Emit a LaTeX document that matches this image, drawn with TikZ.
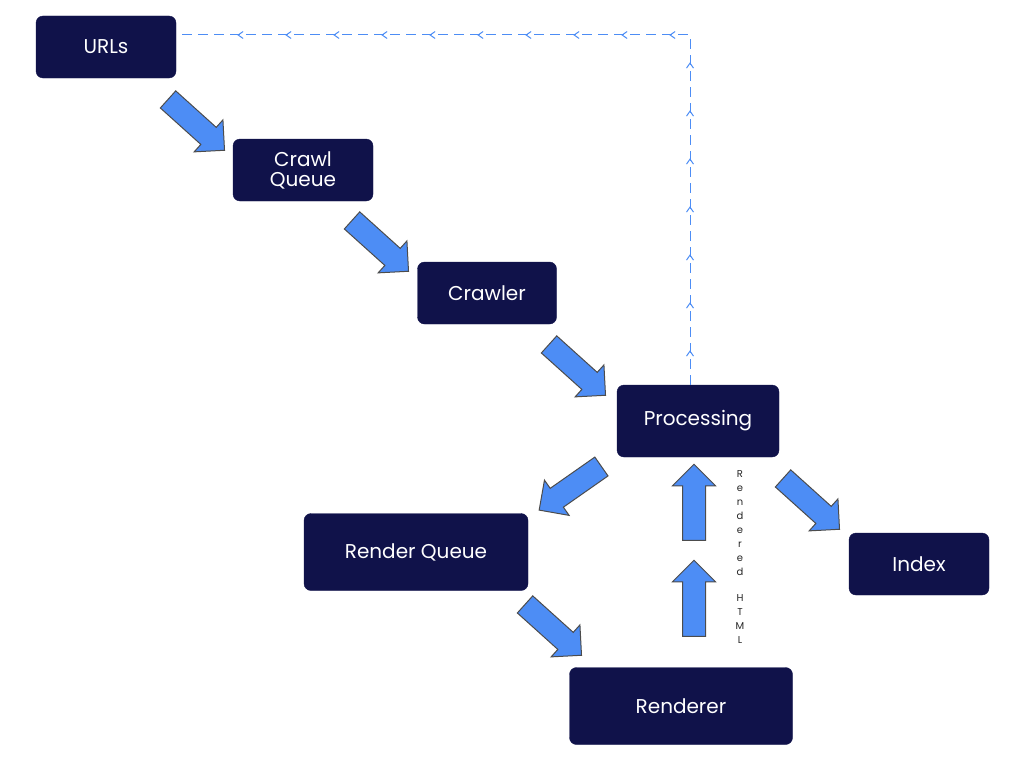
\documentclass[tikz,border=0pt]{standalone}
\usepackage{fontspec}
\setmainfont{Poppins}
\usetikzlibrary{shapes.arrows,decorations.markings,arrows.meta}
\definecolor{navy}{HTML}{10124A}
\definecolor{flow}{HTML}{4D8DF5}
\tikzset{
  box/.style={draw=navy, fill=navy, rounded corners=7pt, text=white,
    font=\fontsize{20}{24}\selectfont, align=center, inner sep=0pt},
  blk/.style={single arrow, draw=black!70, fill=flow, line width=1pt,
    minimum height=76pt, inner xsep=0pt, inner ysep=11pt, single arrow head extend=10pt},
  back/.style={flow, line width=1pt, dash pattern=on 10pt off 6pt,
    decoration={markings, mark=between positions 0.04 and 0.98 step 48pt with {\arrow{Straight Barb[length=5pt,width=7pt]}}},
    postaction={decorate}}
}
\begin{document}
\begin{tikzpicture}[x=1pt, y=-1pt]
  \useasboundingbox (0,0) rectangle (1024,768);

  \node[box, minimum width=140pt, minimum height=62pt] (urls) at (106,47) {URLs};
  \node[box, minimum width=140pt, minimum height=62pt] (queue) at (303,170) {Crawl\\[-4pt]Queue};
  \node[box, minimum width=139pt, minimum height=62pt] (crawler) at (487,293) {Crawler};
  \node[box, minimum width=162pt, minimum height=72pt] (proc) at (698,421) {Processing};
  \node[box, minimum width=224pt, minimum height=77pt] (rqueue) at (416,552) {Render Queue};
  \node[box, minimum width=140pt, minimum height=62pt] (index) at (919,564) {Index};
  \node[box, minimum width=223pt, minimum height=77pt] (renderer) at (681,706) {Renderer};

  \node[blk, rotate=-42] (a1) at (192,121) {};
  \node[blk, rotate=-42] (a2) at (376,242) {};
  \node[blk, rotate=-42] (a3) at (573,366) {};
  \node[blk, rotate=-145] (a4) at (575,485) {};
  \node[blk, rotate=-42] (a5) at (549,626) {};
  \node[blk, rotate=-42] (a6) at (807,500) {};
  \node[blk, rotate=90] (a7) at (694,508) {};
  \node[blk, rotate=90] (a8) at (694,604) {};

  \node[font=\fontsize{10}{14}\selectfont, align=center, text=black!85] (lbl) at (740,557)
    {R\\e\\n\\d\\e\\r\\e\\d\\[12pt]H\\T\\M\\L};

  \coordinate (turn) at (690,35);
  \draw[back] (proc.north -| turn) -- (turn) -- (urls.east |- turn);
\end{tikzpicture}
\end{document}
